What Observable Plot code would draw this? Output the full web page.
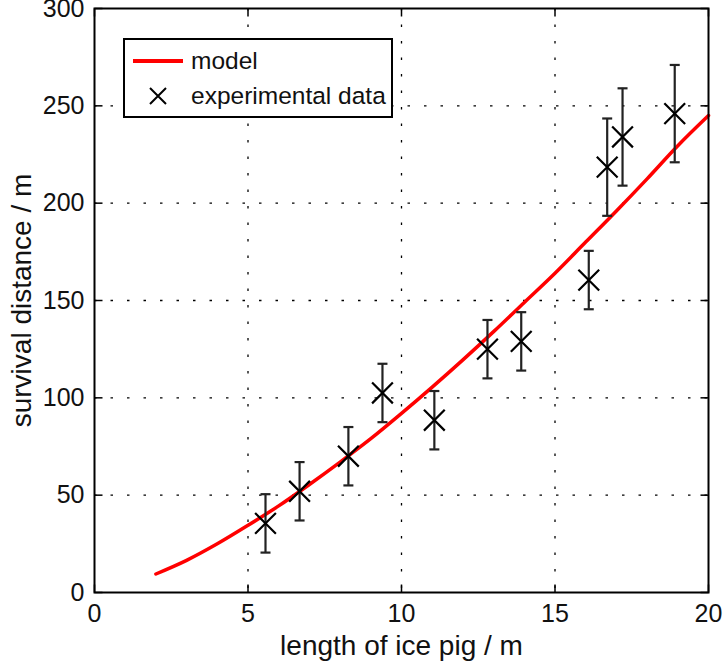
<!DOCTYPE html>
<html>
<head>
<meta charset="utf-8">
<script src="https://cdn.jsdelivr.net/npm/d3@7"></script>
<script src="https://cdn.jsdelivr.net/npm/@observablehq/plot@0.6"></script>
<style>
  html, body { margin: 0; padding: 0; background: #fff; }
  #wrap { position: relative; width: 723px; height: 668px; font-family: "Liberation Sans", Arial, sans-serif; }
  #legend { position: absolute; left: 123px; top: 38px; width: 266px; height: 76px; border: 2.5px solid #000; background: #fff; box-sizing: content-box; }
  .row { position: absolute; left: 0; height: 30px; display: flex; align-items: center; font-size: 24.5px; color: #111; }
  .swatch { width: 66px; display: flex; justify-content: center; align-items: center; }
</style>
</head>
<body>
<div id="wrap"></div>
<script>
// Model curve
const modelX = [2, 3, 4, 5, 6, 7, 8, 9, 10, 11, 12, 13, 14, 15, 16, 17, 18, 19, 20];
const modelY = [9.5, 16.5, 25, 34.5, 44.5, 55.5, 67, 79, 92, 105.5, 119.5, 134, 149, 164, 180, 196, 212.5, 229.5, 245];

// Experimental data
const expX = [5.57, 6.68, 8.27, 9.38, 11.07, 12.8, 13.9, 16.1, 16.7, 17.2, 18.9];
const expY = [35.5, 52, 70, 102.5, 88.5, 125, 129, 160.5, 218.5, 234, 246];
const expErr = [15, 15, 15, 15, 15, 15, 15, 15, 25, 25, 25];

const xTicks = [0, 5, 10, 15, 20];
const yTicks = [0, 50, 100, 150, 200, 250, 300];
const xGrid = [5, 10, 15];
const yGrid = [50, 100, 150, 200, 250];
const xLabel = "length of ice pig / m";
const yLabel = "survival distance / m";

const model = modelX.map((x, i) => ({x, y: modelY[i]}));
const exp = expX.map((x, i) => ({x, y: expY[i], lo: expY[i] - expErr[i], hi: expY[i] + expErr[i]}));

const TL = 8;
const symRight = {draw(c) { c.moveTo(0, 0); c.lineTo(TL, 0); }};
const symLeft  = {draw(c) { c.moveTo(0, 0); c.lineTo(-TL, 0); }};
const symUp    = {draw(c) { c.moveTo(0, 0); c.lineTo(0, -TL); }};
const symDown  = {draw(c) { c.moveTo(0, 0); c.lineTo(0, TL); }};
const capSym   = {draw(c) { c.moveTo(-5, 0); c.lineTo(5, 0); }};

const chart = Plot.plot({
  width: 723,
  height: 668,
  marginLeft: 94,
  marginRight: 15,
  marginTop: 8,
  marginBottom: 76,
  style: {fontFamily: "'Liberation Sans', Arial, sans-serif", fontSize: "25px", color: "#111", background: "#fff"},
  x: {domain: [0, 20]},
  y: {domain: [0, 300]},
  marks: [
    Plot.ruleX(xGrid, {stroke: "#000", strokeWidth: 1.3, strokeDasharray: "2.5,14"}),
    Plot.ruleY(yGrid, {stroke: "#000", strokeWidth: 1.3, strokeDasharray: "2.5,14"}),
    Plot.axisX({ticks: xTicks, tickSize: 0, tickPadding: 12, fontSize: 25, label: null}),
    Plot.axisY({ticks: yTicks, tickSize: 0, tickPadding: 10, fontSize: 25, label: null}),
    Plot.text([xLabel], {text: d => d, frameAnchor: "bottom", textAnchor: "middle", lineAnchor: "middle", dy: 54, fontSize: 28, fill: "#111"}),
    Plot.text([yLabel], {text: d => d, frameAnchor: "left", textAnchor: "middle", lineAnchor: "middle", rotate: -90, dx: -72, fontSize: 28, fill: "#111"}),
    Plot.dot(yTicks, {x: 0, y: d => d, symbol: symRight, stroke: "#000", strokeWidth: 1.5, fill: "none"}),
    Plot.dot(yTicks, {x: 20, y: d => d, symbol: symLeft, stroke: "#000", strokeWidth: 1.5, fill: "none"}),
    Plot.dot(xTicks, {x: d => d, y: 0, symbol: symUp, stroke: "#000", strokeWidth: 1.5, fill: "none"}),
    Plot.dot(xTicks, {x: d => d, y: 300, symbol: symDown, stroke: "#000", strokeWidth: 1.5, fill: "none"}),
    Plot.line(model, {x: "x", y: "y", stroke: "#ff0000", strokeWidth: 3.5, curve: "monotone-x"}),
    Plot.ruleX(exp, {x: "x", y1: "lo", y2: "hi", stroke: "#222", strokeWidth: 2.2}),
    Plot.dot(exp, {x: "x", y: "lo", symbol: capSym, stroke: "#222", strokeWidth: 2.2, fill: "none"}),
    Plot.dot(exp, {x: "x", y: "hi", symbol: capSym, stroke: "#222", strokeWidth: 2.2, fill: "none"}),
    Plot.dot(exp, {x: "x", y: "y", symbol: "times", r: 9.5, stroke: "#000", strokeWidth: 2.2}),
    Plot.frame({stroke: "#000", strokeWidth: 2})
  ]
});

const wrap = document.getElementById("wrap");
wrap.appendChild(chart);

const legend = document.createElement("div");
legend.id = "legend";
legend.innerHTML = `
  <div class="row" style="top:6px"><div class="swatch"><svg width="50" height="6"><line x1="0" y1="3" x2="50" y2="3" stroke="#ff0000" stroke-width="4"/></svg></div><span>model</span></div>
  <div class="row" style="top:41px"><div class="swatch"><svg width="20" height="20"><path d="M2,2L18,18M18,2L2,18" stroke="#000" stroke-width="2"/></svg></div><span>experimental data</span></div>`;
wrap.appendChild(legend);
</script>
</body>
</html>
